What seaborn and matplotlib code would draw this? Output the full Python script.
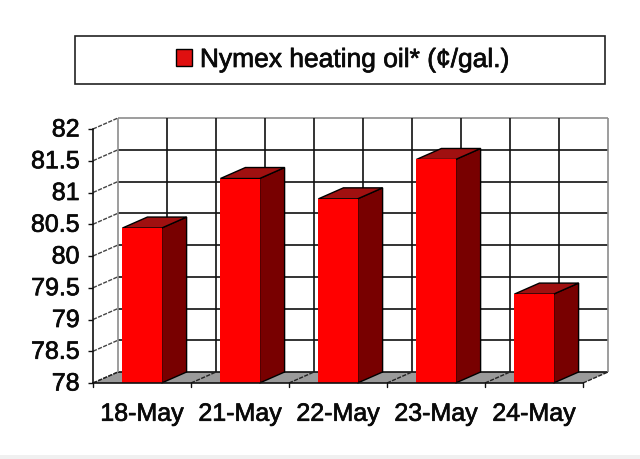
import matplotlib
matplotlib.use("Agg")
import matplotlib.pyplot as plt
import matplotlib.patheffects as pe
from matplotlib.patches import Patch, Polygon, Rectangle
from matplotlib.transforms import ScaledTranslation
import seaborn as sns

dates = ["18-May", "21-May", "22-May", "23-May", "24-May"]
prices = [80.44, 81.22, 80.9, 81.52, 79.4]
y_ticks = [78, 78.5, 79, 79.5, 80, 80.5, 81, 81.5, 82]
y_tick_labels = ["78", "78.5", "79", "79.5", "80", "80.5", "81", "81.5", "82"]
legend_label = "Nymex heating oil* (¢/gal.)"

sns.set_theme(style="white")
plt.rcParams["font.family"] = ["Liberation Sans", "DejaVu Sans"]

W, H = 640, 459
fig = plt.figure(figsize=(W / 100, H / 100), dpi=100, facecolor="white")
ax = fig.add_axes([93 / W, 1 - 383 / H, 490 / W, 254 / H])
ax.patch.set_visible(False)

sns.barplot(x=dates, y=prices, color="#ff0000", saturation=1, width=0.4, ax=ax, zorder=6,
            linewidth=0, edgecolor="none")

x0, x1 = -0.5, 4.5
y0, y1 = 78, 82
ax.set_xlim(x0, x1)
ax.set_ylim(y0, y1)

# 3-D look: depth of the box in data units
dx = 25 / 98
dy = 11 / 63.5

# floor
ax.add_patch(Polygon([(x0, y0), (x1, y0), (x1 + dx, y0 + dy), (x0 + dx, y0 + dy)],
                     closed=True, fc="#9a9a9a", ec="none", zorder=1, clip_on=False))

# back wall grid
for y in y_ticks:
    edge = y == y1
    ax.plot([x0 + dx, x1 + dx], [y + dy, y + dy], color="#8c8c8c" if edge else "#111111",
            lw=1.2, zorder=2, clip_on=False, solid_capstyle="butt")
    ax.plot([x0, x0 + dx], [y, y + dy], color="#444444", lw=1, zorder=2, clip_on=False,
            ls=(0, (3, 1)))
for k in range(11):
    x = x0 + k / 2
    edge = k in (0, 10)
    ax.plot([x + dx, x + dx], [y0 + dy, y1 + dy], color="#8c8c8c" if edge else "#111111",
            lw=1.2, zorder=2, clip_on=False, solid_capstyle="butt")
for k in range(6):
    x = x0 + k
    ax.plot([x, x + dx], [y0, y0 + dy], color="#222222", lw=1, zorder=3, clip_on=False,
            ls=(0, (3, 1)))

# bar sides and tops
for bar in list(ax.containers[0]):
    left = bar.get_x()
    right = left + bar.get_width()
    top = bar.get_y() + bar.get_height()
    ax.add_patch(Polygon([(right, y0), (right + dx, y0 + dy), (right + dx, top + dy), (right, top)],
                         closed=True, fc="#780000", ec="black", lw=1, zorder=5, clip_on=False))
    ax.add_patch(Polygon([(left, top), (right, top), (right + dx, top + dy), (left + dx, top + dy)],
                         closed=True, fc="#a01010", ec="black", lw=1, zorder=5, clip_on=False))

# axes lines and ticks
for s in ("top", "right"):
    ax.spines[s].set_visible(False)
for s in ("left", "bottom"):
    ax.spines[s].set_visible(True)
    ax.spines[s].set_color("#111111")
    ax.spines[s].set_linewidth(1.2)
    ax.spines[s].set_zorder(8)

ax.set_yticks(y_ticks, y_tick_labels)
ax.set_xticks(range(len(dates)), dates)
ax.set_xlabel("")
ax.set_ylabel("")
ax.grid(False)
ax.tick_params(axis="y", left=True, length=3.6, width=1, color="#111111", pad=6,
               labelsize=18, labelcolor="#0a0a0a")
ax.tick_params(axis="x", bottom=False, pad=7.5, labelsize=18, labelcolor="#0a0a0a")
for k in range(6):
    ax.plot([x0 + k, x0 + k], [y0, y0 - 0.06], color="#111111", lw=1, zorder=8, clip_on=False)

# slightly heavier text, as in the soft-edged original
heavy = [pe.withStroke(linewidth=0.5, foreground="#0a0a0a")]
lift = ScaledTranslation(0, 2 / 100, fig.dpi_scale_trans)
for lab in ax.get_yticklabels():
    lab.set_transform(lab.get_transform() + lift)
    lab.set_path_effects(heavy)
for lab in ax.get_xticklabels():
    lab.set_path_effects(heavy)

# legend box
fig.add_artist(Rectangle((75 / W, 1 - 84 / H), 530 / W, 48 / H, transform=fig.transFigure,
                         fc="white", ec="#222222", lw=1.2, zorder=1))
leg = fig.legend(handles=[Patch(fc="#e01010", ec="black", lw=1)], labels=[legend_label],
                 loc="center", bbox_to_anchor=(343 / W, 1 - 60 / H), frameon=False, fontsize=19,
                 handlelength=0.6, handleheight=0.6, handletextpad=0.3, labelcolor="#0a0a0a")
for t in leg.get_texts():
    t.set_path_effects(heavy)

# pale band at the foot of the image
fig.add_artist(Rectangle((0, 0), 1, 4 / H, transform=fig.transFigure, fc="#f0f0f0", ec="none", zorder=0))

fig.savefig("out.png", dpi=100, facecolor="white")
